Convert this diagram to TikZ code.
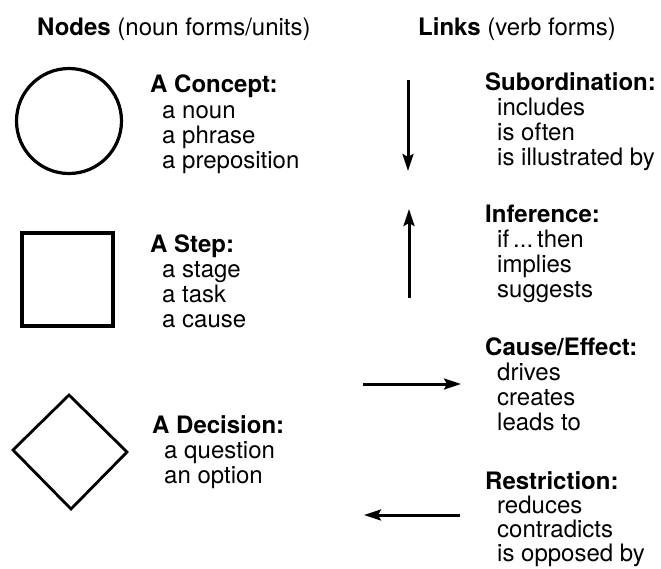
\documentclass[tikz,border=0pt]{standalone}
\usepackage{fontspec}
\setmainfont{TeX Gyre Heros}
\usetikzlibrary{arrows.meta}
\begin{document}
\begin{tikzpicture}[x=1pt,y=-1pt,
  hd/.style={anchor=base west,inner sep=0pt,font=\fontsize{24}{25}\selectfont\bfseries},
  item/.style={anchor=base west,inner sep=0pt,font=\fontsize{24}{25}\selectfont},
  shp/.style={draw=black,line width=3.2pt},
  link/.style={line width=3pt,-{Stealth[length=17pt,width=11pt,inset=3pt]}}]
\useasboundingbox (0,0) rectangle (661,568);
% headers
\node[item] (hnodes) at (37,35) {\textbf{Nodes} (noun forms/units)};
\node[item] (hlinks) at (418,35) {\textbf{Links} (verb forms)};
% shapes
\draw[shp] (69,121) circle[radius=52.5];
\node[shp,minimum width=91pt,minimum height=93pt,inner sep=0pt] (square) at (67.5,279.5) {};
\draw[shp,line width=2.8pt,line join=miter] (69,395) -- (127,452) -- (71,509) -- (13,450) -- cycle;
% concept
\node[hd] (concept) at (150,92) {A Concept:};
\node[item] (concept1) at (162,118) {a noun};
\node[item] (concept2) at (162,143) {a phrase};
\node[item] (concept3) at (162,168) {a preposition};
% step
\node[hd] (step) at (150,252) {A Step:};
\node[item] (step1) at (162,277) {a stage};
\node[item] (step2) at (162,302) {a task};
\node[item] (step3) at (162,327) {a cause};
% decision
\node[hd] (decision) at (152,433) {A Decision:};
\node[item] (decision1) at (164,458) {a question};
\node[item] (decision2) at (164,483) {an option};
% subordination
\node[hd] (sub) at (485,90) {Subordination:};
\node[item] (sub1) at (497,115) {includes};
\node[item] (sub2) at (497,140) {is often};
\node[item] (sub3) at (497,165) {is illustrated by};
% inference
\node[hd] (inf) at (485,222) {Inference:};
\node[item] (inf1) at (497,247) {if\,...\,then};
\node[item] (inf2) at (497,272) {implies};
\node[item] (inf3) at (497,297) {suggests};
% cause/effect
\node[hd] (ce) at (485,355) {Cause/Effect:};
\node[item] (ce1) at (497,380) {drives};
\node[item] (ce2) at (497,405) {creates};
\node[item] (ce3) at (497,430) {leads to};
% restriction
\node[hd] (res) at (485,489) {Restriction:};
\node[item] (res1) at (497,513) {reduces};
\node[item] (res2) at (497,537) {contradicts};
\node[item] (res3) at (497,561) {is opposed by};
% arrows
\coordinate (subA) at (408,80);
\coordinate (subB) at (408,171);
\coordinate (infA) at (409,298);
\coordinate (infB) at (409,209);
\coordinate (ceA) at (363,384);
\coordinate (ceB) at (461,384);
\coordinate (resA) at (460,515);
\coordinate (resB) at (364,515);
\draw[link] (subA) -- (subB);
\draw[link] (infA) -- (infB);
\draw[link] (ceA) -- (ceB);
\draw[link] (resA) -- (resB);
\end{tikzpicture}
\end{document}
